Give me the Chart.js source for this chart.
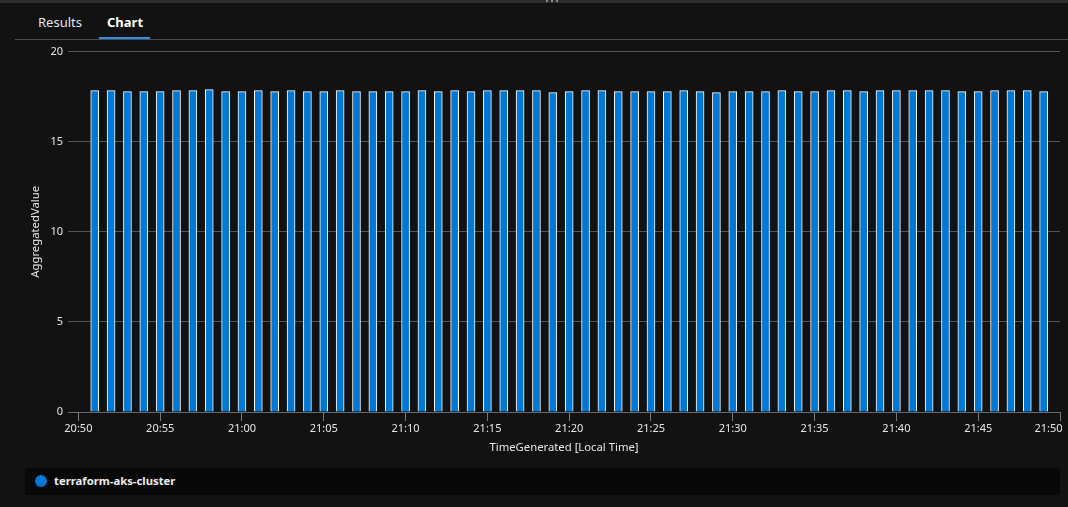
<!DOCTYPE html>
<html>
<head>
<meta charset="utf-8">
<script src="https://cdn.jsdelivr.net/npm/chart.js@4/dist/chart.umd.min.js"></script>
<style>
  html, body { margin: 0; padding: 0; background: #121212; width: 1068px; height: 507px; overflow: hidden; font-family: "Segoe UI", "Noto Sans", sans-serif; }
  #topstrip { position: absolute; left: 0; top: 0; width: 1068px; height: 3px; background: #2d2d2d; }
  .dot { position: absolute; top: 0; width: 2px; height: 2px; background: #8a8a8a; }
  #sep { position: absolute; left: 15px; top: 39px; width: 1053px; height: 1px; background: #4d4c55; }
  .tab { position: absolute; top: 13px; font-size: 13px; color: #e4e4e4; line-height: 18px; }
  #underline { position: absolute; left: 99px; top: 37px; width: 51px; height: 2px; background: #2f8fe0; }
  #wrap { position: absolute; left: 0; top: 40px; width: 1068px; height: 425px; }
  #legend { position: absolute; left: 25px; top: 468px; width: 1035px; height: 27px; background: #080808; }
  #legend .sw { position: absolute; left: 10px; top: 7px; width: 12px; height: 12px; border-radius: 50%; background: #0078d4; }
  #legend .lt { position: absolute; left: 29px; top: 4px; font-size: 11.3px; font-weight: bold; color: #ececec; line-height: 18px; }
</style>
</head>
<body>
<div id="topstrip"></div>
<div class="dot" style="left:546px"></div>
<div class="dot" style="left:551px"></div>
<div class="dot" style="left:556px"></div>
<div class="tab" style="left:38px;">Results</div>
<div class="tab" style="left:107px;font-weight:bold;color:#fff;">Chart</div>
<div id="underline"></div>
<div id="sep"></div>
<div id="wrap"><canvas id="c"></canvas></div>
<div id="legend"><div class="sw"></div><div class="lt" id="legendText"></div></div>
<script>
const seriesName = "terraform-aks-cluster";
const times = [
  "20:51","20:52","20:53","20:54","20:55","20:56","20:57","20:58","20:59","21:00",
  "21:01","21:02","21:03","21:04","21:05","21:06","21:07","21:08","21:09","21:10",
  "21:11","21:12","21:13","21:14","21:15","21:16","21:17","21:18","21:19","21:20",
  "21:21","21:22","21:23","21:24","21:25","21:26","21:27","21:28","21:29","21:30",
  "21:31","21:32","21:33","21:34","21:35","21:36","21:37","21:38","21:39","21:40",
  "21:41","21:42","21:43","21:44","21:45","21:46","21:47","21:48","21:49"
];
const values = [
  17.83,17.83,17.78,17.78,17.78,17.83,17.83,17.89,17.78,17.78,
  17.83,17.78,17.83,17.78,17.78,17.83,17.78,17.78,17.78,17.78,
  17.83,17.78,17.83,17.78,17.83,17.83,17.83,17.83,17.72,17.78,
  17.83,17.83,17.78,17.78,17.78,17.78,17.83,17.78,17.72,17.78,
  17.78,17.78,17.83,17.78,17.78,17.83,17.83,17.78,17.83,17.83,
  17.83,17.83,17.83,17.78,17.78,17.83,17.83,17.83,17.78
];
const xTickLabels = ["20:50","20:55","21:00","21:05","21:10","21:15","21:20","21:25","21:30","21:35","21:40","21:45","21:50"];
const yTicks = [0, 5, 10, 15, 20];
const xRangeStart = "20:49:22";
const xRangeEnd = "21:50";

function toMin(s) {
  const p = s.split(":").map(Number);
  return (p[0] - 20) * 60 + p[1] + (p[2] || 0) / 60;
}

document.getElementById("legendText").textContent = seriesName;

const textColor = "#e6e6e6";
const fam = "'Segoe UI', 'Noto Sans', sans-serif";
const tickFont = { family: fam, size: 11 };

new Chart(document.getElementById("c"), {
  type: "bar",
  data: {
    datasets: [{
      label: seriesName,
      data: times.map((t, i) => ({ x: toMin(t), y: values[i] })),
      backgroundColor: "#0078d4",
      borderColor: "#ffffff",
      borderWidth: 1,
      barThickness: 8
    }]
  },
  options: {
    responsive: true,
    maintainAspectRatio: false,
    animation: false,
    layout: { padding: { top: 9.5, right: 8, left: 0, bottom: 0 } },
    plugins: { legend: { display: false }, tooltip: { enabled: false } },
    scales: {
      x: {
        type: "linear",
        min: toMin(xRangeStart),
        max: toMin(xRangeEnd),
        offset: false,
        afterFit: s => { s.height = 53; s.paddingRight = 0; },
        afterBuildTicks: s => { s.ticks = xTickLabels.map(l => ({ value: toMin(l) })); },
        ticks: {
          color: textColor, font: tickFont, padding: 1, maxRotation: 0, autoSkip: false,
          callback: (v, i) => i === xTickLabels.length - 1 ? xTickLabels[i] + "        " : xTickLabels[i]
        },
        grid: { display: true, offset: false, drawOnChartArea: false, drawTicks: true, tickLength: 9, color: "#7a7a7a" },
        border: { display: true, color: "#6a6a6a" },
        title: { display: true, text: "TimeGenerated [Local Time]", color: textColor, font: { family: fam, size: 11.3 }, padding: { top: 0, bottom: 10 } }
      },
      y: {
        min: 0,
        max: 20,
        afterFit: s => { s.width = 68; },
        afterBuildTicks: s => { s.ticks = yTicks.map(v => ({ value: v })); },
        ticks: { color: textColor, font: tickFont, padding: 5 },
        grid: { color: "#555555", drawTicks: false },
        border: { display: false },
        title: { display: true, text: "AggregatedValue", color: textColor, font: { family: fam, size: 11.3 }, padding: { top: 29.2, bottom: 0 } }
      }
    }
  }
});
</script>
</body>
</html>
